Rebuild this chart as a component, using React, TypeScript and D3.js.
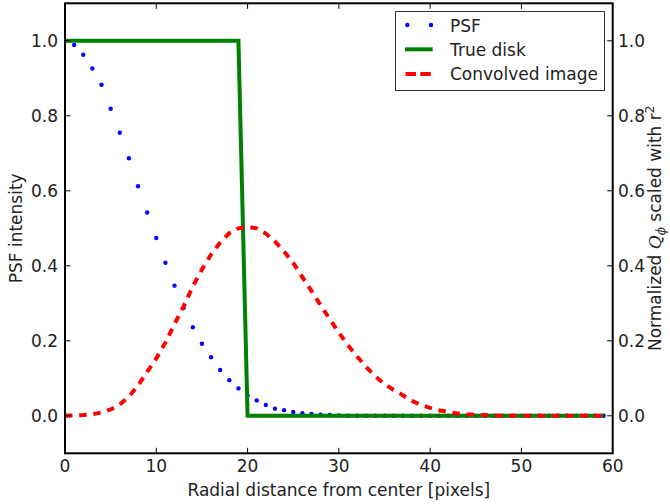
import React from "react";
import * as d3 from "d3";

// Radial profiles sampled at integer pixel radii 0..59
const radii: number[] = d3.range(0, 60);

const psfValues: number[] = [
  1.0, 0.989, 0.963, 0.926, 0.883, 0.819, 0.755, 0.687, 0.612, 0.542,
  0.474, 0.408, 0.347, 0.288, 0.236, 0.192, 0.156, 0.122, 0.095, 0.073,
  0.054, 0.041, 0.029, 0.019, 0.015, 0.01, 0.007, 0.005, 0.003, 0.002,
  0.001, 0, 0, 0, 0, 0, 0, 0, 0, 0,
  0, 0, 0, 0, 0, 0, 0, 0, 0, 0,
  0, 0, 0, 0, 0, 0, 0, 0, 0, 0,
];

const diskValues: number[] = [
  1, 1, 1, 1, 1, 1, 1, 1, 1, 1,
  1, 1, 1, 1, 1, 1, 1, 1, 1, 1,
  0, 0, 0, 0, 0, 0, 0, 0, 0, 0,
  0, 0, 0, 0, 0, 0, 0, 0, 0, 0,
  0, 0, 0, 0, 0, 0, 0, 0, 0, 0,
  0, 0, 0, 0, 0, 0, 0, 0, 0, 0,
];

const convolvedValues: number[] = [
  0.0, 0.001, 0.002, 0.004, 0.009, 0.017, 0.03, 0.051, 0.081, 0.117,
  0.153, 0.195, 0.245, 0.292, 0.345, 0.39, 0.43, 0.462, 0.487, 0.5,
  0.504, 0.5, 0.486, 0.465, 0.438, 0.408, 0.37, 0.333, 0.295, 0.258,
  0.222, 0.188, 0.158, 0.13, 0.105, 0.085, 0.069, 0.055, 0.04, 0.029,
  0.021, 0.015, 0.01, 0.006, 0.004, 0.003, 0.002, 0.001, 0, 0,
  0, 0, 0, 0, 0, 0, 0, 0, 0, 0,
];

const xTicks: number[] = [0, 10, 20, 30, 40, 50, 60];
const yTicks: number[] = [0.0, 0.2, 0.4, 0.6, 0.8, 1.0];

const legendLabels: string[] = ["PSF", "True disk", "Convolved image"];

const W = 670;
const H = 504;
const FONT = "'DejaVu Sans', sans-serif";
const FS = 17;

export default function App() {
  const left = 65;
  const right = 612.7;
  const top = 3.3;
  const bottom = 453.3;

  const x = d3.scaleLinear().domain([0, 60]).range([left, right]);
  const y = d3.scaleLinear().domain([-0.1, 1.1]).range([bottom, top]);

  const line = d3
    .line<[number, number]>()
    .x((d) => x(d[0]))
    .y((d) => y(d[1]));

  const diskPath = line(radii.map((r, i) => [r, diskValues[i]]))!;
  const convPath = line(radii.map((r, i) => [r, convolvedValues[i]]))!;

  const tickLen = 5.5;
  const legX = 395.5;
  const legY = 11.5;
  const legW = 209;
  const legH = 79;
  const rowY = [25, 49.3, 74];
  const baseY = [31.7, 56, 79.7];

  return (
    <svg
      width={W}
      height={H}
      style={{ position: "absolute", left: 0, top: 0, background: "#fff" }}
      fontFamily={FONT}
    >
      <rect x={0} y={0} width={W} height={H} fill="#fff" />
      <defs>
        <clipPath id="plot-area">
          <rect x={left} y={top} width={right - left} height={bottom - top} />
        </clipPath>
      </defs>

      <g clipPath="url(#plot-area)">
        {radii.map((r, i) => (
          <circle key={r} cx={x(r)} cy={y(psfValues[i])} r={2.2} fill="#0000ff" />
        ))}
        <path d={diskPath} fill="none" stroke="#008000" strokeWidth={4} strokeLinejoin="miter" />
        <path
          d={convPath}
          fill="none"
          stroke="#ff0000"
          strokeWidth={4}
          strokeDasharray="7.5 6.7"
        />
      </g>

      {/* ticks on all four sides, pointing inward */}
      <g stroke="#000" strokeWidth={1}>
        {xTicks.map((t) => (
          <g key={"xt" + t}>
            <line x1={x(t)} x2={x(t)} y1={bottom} y2={bottom - tickLen} />
            <line x1={x(t)} x2={x(t)} y1={top} y2={top + tickLen} />
          </g>
        ))}
        {yTicks.map((t) => (
          <g key={"yt" + t}>
            <line x1={left} x2={left + tickLen} y1={y(t)} y2={y(t)} />
            <line x1={right} x2={right - tickLen} y1={y(t)} y2={y(t)} />
          </g>
        ))}
      </g>

      <rect
        x={left}
        y={top}
        width={right - left}
        height={bottom - top}
        fill="none"
        stroke="#000"
        strokeWidth={2}
      />

      {/* tick labels */}
      <g fontSize={FS} fill="#222">
        {xTicks.map((t) => (
          <text key={"xl" + t} x={x(t)} y={472} textAnchor="middle">
            {d3.format("d")(t)}
          </text>
        ))}
        {yTicks.map((t) => (
          <text key={"yl" + t} x={58} y={y(t) + 6} textAnchor="end">
            {d3.format(".1f")(t)}
          </text>
        ))}
        {yTicks.map((t) => (
          <text key={"yr" + t} x={618} y={y(t) + 6} textAnchor="start">
            {d3.format(".1f")(t)}
          </text>
        ))}
      </g>

      {/* axis labels */}
      <g fontSize={FS} fill="#222">
        <text x={(left + right) / 2} y={496} textAnchor="middle">
          Radial distance from center [pixels]
        </text>
        <text
          transform={`translate(21.5,${(top + bottom) / 2}) rotate(-90)`}
          textAnchor="middle"
        >
          PSF intensity
        </text>
        <text
          transform={`translate(661,${(top + bottom) / 2}) rotate(-90)`}
          textAnchor="middle"
        >
          <tspan>Normalized </tspan>
          <tspan fontFamily="'DejaVu Serif', serif" fontStyle="italic">Q</tspan>
          <tspan fontFamily="'DejaVu Serif', serif" fontStyle="italic" fontSize={12} dy={4}>
            ϕ
          </tspan>
          <tspan dy={-4}> scaled with r</tspan>
          <tspan fontSize={12} dy={-7}>2</tspan>
        </text>
      </g>

      {/* legend */}
      <g>
        <rect x={legX} y={legY} width={legW} height={legH} fill="#fff" stroke="#333" strokeWidth={1} />
        <circle cx={407.3} cy={rowY[0]} r={2.2} fill="#0000ff" />
        <circle cx={431} cy={rowY[0]} r={2.2} fill="#0000ff" />
        <line x1={405} x2={432.7} y1={rowY[1]} y2={rowY[1]} stroke="#008000" strokeWidth={4} />
        <line
          x1={405.5}
          x2={431}
          y1={rowY[2]}
          y2={rowY[2]}
          stroke="#ff0000"
          strokeWidth={4}
          strokeDasharray="10.5 4.3"
        />
        {legendLabels.map((l, i) => (
          <text key={l} x={450} y={baseY[i]} fontSize={FS} fill="#222">
            {l}
          </text>
        ))}
      </g>
    </svg>
  );
}
